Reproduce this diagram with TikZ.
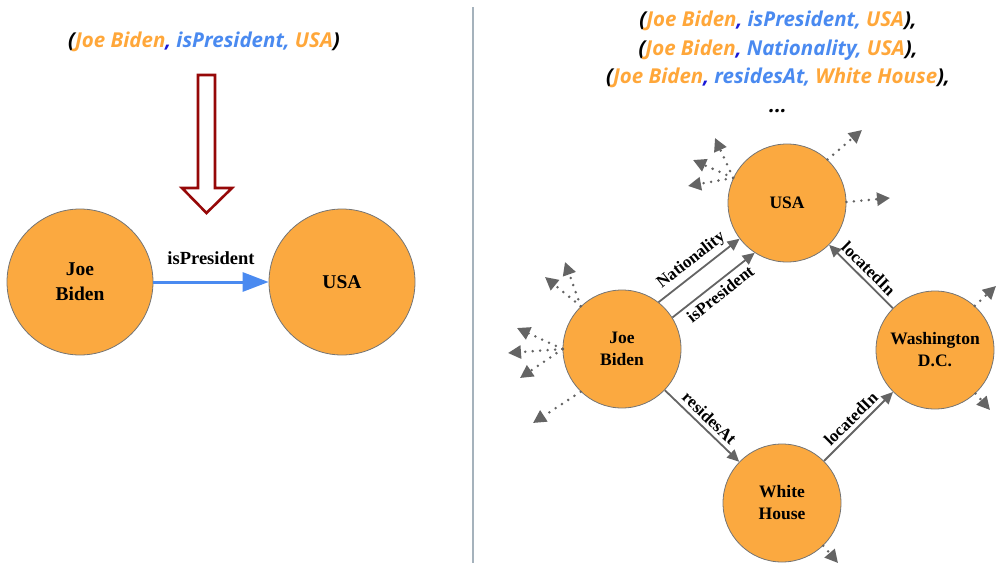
\documentclass[tikz,border=0pt]{standalone}
\usepackage{fontspec}
\setmainfont{Liberation Serif}
\setsansfont{Open Sans}
\usetikzlibrary{arrows.meta}
\usetikzlibrary{calc}

\definecolor{entorange}{RGB}{251,169,64}
\definecolor{txtorange}{RGB}{255,167,58}
\definecolor{relblue}{RGB}{74,138,240}
\definecolor{commablue}{RGB}{25,25,215}
\definecolor{darkred}{RGB}{150,8,8}
\definecolor{edgegray}{RGB}{100,100,100}
\definecolor{divgray}{RGB}{165,178,188}

\newcommand{\triple}[3]{(\textcolor{txtorange}{#1}\textcolor{commablue}{,} \textcolor{relblue}{#2,} \textcolor{txtorange}{#3})}

\tikzset{
  entity/.style={circle, fill=entorange, draw=edgegray!90, line width=0.8pt, inner sep=0pt, align=center},
  bigent/.style={entity, minimum size=146pt, font=\fontsize{19.5}{25}\selectfont\bfseries},
  smallent/.style={entity, minimum size=118pt, font=\fontsize{17.5}{22}\selectfont\bfseries},
  rel/.style={draw=edgegray, line width=1.8pt, -{Triangle[length=12pt,width=11pt]}},
  rellbl/.style={font=\fontsize{17}{20}\selectfont\bfseries, sloped, inner sep=4pt},
  bluearr/.style={draw=relblue, line width=3pt, -{Triangle[length=26pt,width=19pt]}},
  stub/.style={draw=edgegray, line width=2.8pt, line cap=round, dash pattern=on 0pt off 7.5pt, -{Triangle[length=13pt,width=13pt]}},
  triples/.style={font=\sffamily\bfseries\itshape\fontsize{20.5}{28.5}\selectfont, align=center}
}

\begin{document}
\begin{tikzpicture}[x=1pt, y=-1pt]
\useasboundingbox (0,0) rectangle (996,570);

% left: one triple
\node[triples] (trip) at (204,42) {\triple{Joe Biden}{isPresident}{USA}};
\draw[darkred, line width=2.6pt, line join=miter]
  (198,75) -- (215,75) -- (215,188) -- (232,188) -- (206.5,213) -- (182,188) -- (198,188) -- cycle;
\node[bigent] (jbl) at (80,282) {Joe\\Biden};
\node[bigent] (usal) at (342,282) {USA};
\draw[bluearr] (jbl) -- (usal) node[midway, above=12pt, font=\fontsize{18.5}{20}\selectfont\bfseries] {isPresident};

% divider
\draw[divgray, line width=2pt] (473,7) -- (473,563);

% right: knowledge graph
\node[triples] (trips) at (778,62) {\triple{Joe Biden}{isPresident}{USA},\\
  \triple{Joe Biden}{Nationality}{USA},\\
  \triple{Joe Biden}{residesAt}{White House},\\
  \textcolor{black}{...}};
\node[smallent] (usa) at (787,203) {USA};
\node[smallent] (jb) at (622,349) {Joe\\Biden};
\node[smallent] (wdc) at (935,350) {Washington\\D.C.};
\node[smallent] (wh) at (782,503) {White\\House};

\draw[rel] (jb.52) -- (usa.217) node[midway, above, rellbl] {Nationality};
\draw[rel] (jb.32) -- (usa.237) node[midway, below, rellbl] {isPresident};
\draw[rel] (jb) -- (wh) node[midway, above, rellbl] {residesAt};
\draw[rel] (wh) -- (wdc) node[midway, above, rellbl] {locatedIn};
\draw[rel] (wdc) -- (usa) node[midway, above, rellbl] {locatedIn};

% dotted stubs to the rest of the graph
\foreach \src/\ang/\tx/\ty [count=\i] in {usa/155/715/138, usa/155/693/160, usa/155/688/186,
    usa/47/862/130, usa/1/890/198, jb/134/565/262, jb/134/545/277, jb/180/517/328,
    jb/180/508/353, jb/180/520/378, jb/226/533/423, wdc/48/996/286, wdc/-47/990/410,
    wh/-46/838/563}
  {\coordinate (tip\i) at (\tx,\ty);
   \draw[stub] (\src.\ang) -- (tip\i);}
\end{tikzpicture}
\end{document}
